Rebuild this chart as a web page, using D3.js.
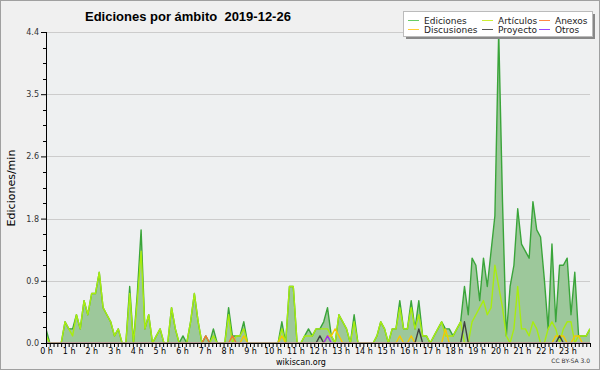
<!DOCTYPE html>
<html>
<head>
<meta charset="utf-8">
<script src="https://cdn.jsdelivr.net/npm/d3@7"></script>
<style>
  body { margin: 0; background: #fff; }
  svg { display: block; font-family: "DejaVu Sans", sans-serif; }
</style>
</head>
<body>
<div id="chart"></div>
<script>
// 10-minute bins, 144 per day (edits per minute)
const ediciones = [
  0.2, 0, 0, 0, 0, 0.3, 0.2, 0.2, 0.4, 0.2, 0.6, 0.4,
  0.7, 0.7, 1.0, 0.5, 0.4, 0.3, 0.1, 0.2, 0, 0, 0.8, 0,
  0.7, 1.6, 0.2, 0.4, 0, 0.1, 0.2, 0, 0, 0.5, 0.2, 0,
  0.1, 0, 0.3, 0.7, 0.3, 0, 0.1, 0, 0.2, 0, 0, 0,
  0.5, 0.1, 0.1, 0.1, 0.3, 0, 0, 0, 0, 0, 0, 0,
  0, 0, 0.3, 0, 0.8, 0.8, 0, 0, 0.1, 0.2, 0.1, 0.2,
  0.2, 0.3, 0.5, 0.1, 0, 0.4, 0.3, 0.2, 0, 0.4, 0, 0,
  0, 0, 0, 0.1, 0.3, 0.2, 0, 0.2, 0.2, 0.6, 0.2, 0.2,
  0.6, 0.2, 0.6, 0.1, 0.1, 0, 0.1, 0.2, 0.3, 0.2, 0.2, 0.1,
  0.2, 0.3, 0.8, 0.4, 1.2, 1.1, 0.6, 1.2, 0.8, 1.3, 1.8, 4.4,
  2.0, 0.1, 0.8, 1.1, 1.9, 1.4, 1.3, 1.2, 2.0, 1.6, 1.5, 0.9,
  0.2, 1.4, 0.3, 1.1, 1.1, 1.2, 0.4, 1.0, 0.1, 0.1, 0.1, 0.2
];
const articulos = [
  0.1, 0, 0, 0, 0, 0.3, 0.2, 0.1, 0.4, 0.2, 0.6, 0.4,
  0.7, 0.7, 1.0, 0.5, 0.4, 0.3, 0.1, 0.2, 0, 0, 0.7, 0,
  0.6, 1.3, 0.2, 0.4, 0, 0.1, 0.2, 0, 0, 0.5, 0.2, 0,
  0, 0, 0.3, 0.7, 0.3, 0, 0, 0, 0.1, 0, 0, 0,
  0.4, 0, 0.1, 0.1, 0.2, 0, 0, 0, 0, 0, 0, 0,
  0, 0, 0.2, 0, 0.8, 0.8, 0, 0, 0.1, 0.1, 0.1, 0.2,
  0.2, 0.2, 0.2, 0.1, 0, 0.4, 0.3, 0.2, 0, 0.3, 0, 0,
  0, 0, 0, 0.1, 0.3, 0.2, 0, 0.2, 0.2, 0.5, 0.2, 0.2,
  0.5, 0.2, 0.4, 0.1, 0.1, 0, 0.1, 0.2, 0.3, 0.1, 0.1, 0.1,
  0.2, 0.3, 0, 0, 0.3, 0.4, 0.5, 0.6, 0.4, 0.5, 1.1, 0.8,
  0.5, 0.1, 0, 0.2, 0.8, 0.2, 0.2, 0.1, 0.3, 0.2, 0, 0,
  0.2, 0.3, 0.2, 0, 0.2, 0.3, 0.3, 0, 0.1, 0.1, 0.1, 0.2
];
const anexos = [
  0, 0, 0, 0, 0, 0, 0, 0, 0, 0, 0, 0,
  0, 0, 0, 0, 0, 0, 0, 0, 0, 0, 0, 0,
  0, 0, 0, 0, 0, 0, 0, 0, 0, 0, 0, 0,
  0, 0, 0, 0, 0, 0, 0.1, 0, 0, 0, 0, 0,
  0, 0.1, 0, 0, 0, 0, 0, 0, 0, 0, 0, 0,
  0, 0, 0, 0, 0, 0, 0, 0, 0, 0, 0, 0,
  0, 0, 0, 0, 0, 0, 0, 0, 0, 0, 0, 0,
  0, 0, 0, 0, 0, 0, 0, 0, 0, 0, 0, 0,
  0, 0, 0, 0, 0, 0, 0, 0, 0, 0, 0, 0,
  0, 0, 0, 0, 0, 0, 0, 0, 0, 0, 0, 0,
  0, 0, 0, 0, 0, 0, 0, 0, 0, 0, 0, 0,
  0, 0, 0, 0, 0, 0, 0, 0, 0, 0, 0, 0
];
const discusiones = [
  0, 0, 0, 0, 0, 0, 0, 0, 0, 0, 0, 0,
  0, 0, 0, 0, 0, 0, 0, 0, 0, 0, 0, 0,
  0, 0, 0, 0, 0, 0, 0, 0, 0, 0, 0, 0,
  0, 0, 0, 0, 0, 0, 0, 0, 0, 0, 0, 0,
  0, 0, 0, 0, 0.1, 0, 0, 0, 0, 0, 0, 0,
  0, 0, 0.1, 0, 0, 0, 0, 0, 0, 0, 0, 0,
  0, 0, 0.1, 0.1, 0.2, 0.1, 0, 0, 0, 0, 0, 0,
  0, 0, 0, 0, 0, 0, 0, 0, 0, 0.1, 0, 0,
  0.1, 0, 0, 0, 0, 0, 0, 0, 0, 0.2, 0, 0,
  0, 0, 0, 0, 0, 0, 0, 0, 0, 0, 0, 0,
  0, 0, 0, 0, 0, 0, 0, 0, 0, 0, 0, 0,
  0, 0, 0.1, 0.1, 0.1, 0, 0, 0.1, 0.1, 0, 0, 0
];
const proyecto = [
  0, 0, 0, 0, 0, 0, 0, 0, 0, 0, 0, 0,
  0, 0, 0, 0, 0, 0, 0, 0, 0, 0, 0, 0,
  0, 0, 0, 0, 0, 0, 0, 0, 0, 0, 0, 0,
  0, 0, 0, 0, 0, 0, 0, 0, 0, 0, 0, 0,
  0, 0, 0, 0, 0, 0, 0, 0, 0, 0, 0, 0,
  0, 0, 0, 0, 0, 0, 0, 0, 0, 0, 0, 0,
  0.1, 0, 0, 0, 0, 0, 0, 0, 0, 0, 0, 0,
  0, 0, 0, 0, 0, 0, 0, 0, 0, 0, 0, 0,
  0, 0, 0.2, 0, 0, 0, 0, 0, 0, 0, 0, 0,
  0, 0, 0.3, 0, 0, 0, 0, 0, 0, 0, 0, 0,
  0, 0, 0, 0, 0, 0, 0, 0, 0, 0, 0, 0,
  0, 0, 0, 0.1, 0, 0, 0, 0, 0, 0, 0, 0
];
const otros = [
  0, 0, 0, 0, 0, 0, 0, 0, 0, 0, 0, 0,
  0, 0, 0, 0, 0, 0, 0, 0, 0, 0, 0, 0,
  0, 0, 0, 0, 0, 0, 0, 0, 0, 0, 0, 0,
  0, 0, 0, 0, 0, 0, 0, 0, 0, 0, 0, 0,
  0, 0, 0, 0, 0, 0, 0, 0, 0, 0, 0, 0,
  0, 0, 0, 0, 0, 0, 0, 0, 0, 0, 0, 0,
  0, 0, 0.1, 0, 0, 0, 0, 0, 0, 0, 0, 0,
  0, 0, 0, 0, 0, 0, 0, 0, 0, 0, 0, 0,
  0, 0, 0, 0, 0, 0, 0, 0, 0, 0, 0, 0,
  0, 0, 0, 0, 0, 0, 0, 0, 0, 0, 0, 0,
  0, 0, 0, 0, 0, 0, 0, 0, 0, 0, 0, 0,
  0, 0, 0, 0, 0, 0, 0, 0, 0, 0, 0, 0
];
const yTicks = [0, 0.88, 1.76, 2.64, 3.52, 4.4];

const W = 600, H = 370;
const margin = { top: 32, right: 10, bottom: 27, left: 46 };
const width = W - margin.left - margin.right;
const height = H - margin.top - margin.bottom;

const svg = d3.select("#chart").append("svg")
  .attr("width", W)
  .attr("height", H);

// background and frame
svg.append("rect")
  .attr("x", 0.5).attr("y", 0.5)
  .attr("width", W - 1).attr("height", H - 1)
  .attr("fill", "#f0f0f0")
  .attr("stroke", "#a0a0a0");

const g = svg.append("g")
  .attr("transform", `translate(${margin.left}, ${margin.top})`);

g.append("rect")
  .attr("width", width).attr("height", height)
  .attr("fill", "#eef0f1");

const x = d3.scaleLinear().domain([0, 143]).range([0, width]);
const y = d3.scaleLinear().domain([0, 4.4]).range([height, 0]);

// grid
g.selectAll(".grid")
  .data(yTicks.slice(1))
  .join("line")
  .attr("x1", 0).attr("x2", width)
  .attr("y1", (d) => Math.round(y(d)) + 0.5)
  .attr("y2", (d) => Math.round(y(d)) + 0.5)
  .attr("stroke", "#cccccc");

g.append("clipPath").attr("id", "clip")
  .append("rect").attr("x", 0).attr("y", -2)
  .attr("width", width).attr("height", height + 1.2);

const plot = g.append("g").attr("clip-path", "url(#clip)");

const area = d3.area()
  .x((d, i) => x(i))
  .y0(height)
  .y1((d) => y(d));
const line = d3.line()
  .x((d, i) => x(i))
  .y((d) => y(d));

plot.append("path")
  .datum(ediciones)
  .attr("d", area)
  .attr("fill", "#9dc89b");

const series = [
  { values: ediciones, color: "#3aa53a" },
  { values: articulos, color: "#a8ec10" },
  { values: anexos, color: "#f07a30" },
  { values: discusiones, color: "#f5c800" },
  { values: proyecto, color: "#404040" },
  { values: otros, color: "#9b30f0" }
];

plot.selectAll(".serie")
  .data(series)
  .join("path")
  .attr("d", (d) => line(d.values))
  .attr("fill", "none")
  .attr("stroke", (d) => d.color)
  .attr("stroke-width", 1.4)
  .attr("stroke-linejoin", "round");

// Y axis
const yAxis = d3.axisLeft(y)
  .tickValues(yTicks)
  .tickFormat(d3.format(".1f"))
  .tickSize(5)
  .tickPadding(2);
const ya = g.append("g").call(yAxis);
ya.select(".domain").remove();
ya.selectAll("text").attr("font-size", 8).attr("fill", "#333")
  .attr("font-family", "DejaVu Sans");
ya.selectAll("line").attr("stroke", "#000");

// minor y ticks
const yMinor = d3.range(0, 4.4, 0.22).filter((v) => !yTicks.some((t) => Math.abs(t - v) < 0.01));
g.selectAll(".yminor")
  .data(yMinor)
  .join("line")
  .attr("x1", -3).attr("x2", 0)
  .attr("y1", (d) => Math.round(y(d)) + 0.5)
  .attr("y2", (d) => Math.round(y(d)) + 0.5)
  .attr("stroke", "#000");

g.append("line")
  .attr("x1", 0.5).attr("x2", 0.5)
  .attr("y1", 0).attr("y2", height)
  .attr("stroke", "#000");

// X axis (10-minute ticks, labels each hour)
const xh = d3.scaleLinear().domain([0, 24]).range([0, width]);
const xAxis = d3.axisBottom(xh)
  .tickValues(d3.range(0, 24.01, 1 / 6))
  .tickFormat((d) => {
    const h = Math.round(d * 6);
    return h % 6 === 0 && h / 6 < 24 ? `${h / 6} h` : "";
  })
  .tickSize(4)
  .tickPadding(1);
const xa = g.append("g")
  .attr("transform", `translate(0, ${height})`)
  .call(xAxis);
xa.select(".domain").attr("stroke", "#000").attr("d", `M0.5,0.5H${width}`);
xa.selectAll("line").attr("stroke", "#000");
xa.selectAll("text").attr("font-size", 8).attr("fill", "#000")
  .attr("font-family", "DejaVu Sans");

// title
svg.append("text")
  .attr("x", 85).attr("y", 21)
  .attr("font-family", "Liberation Sans")
  .attr("font-size", 13)
  .attr("font-weight", "bold")
  .style("white-space", "pre")
  .text("Ediciones por ámbito  2019-12-26");

svg.append("text")
  .attr("transform", "translate(15, 188) rotate(-90)")
  .attr("text-anchor", "middle")
  .attr("font-size", 11)
  .text("Ediciones/min");

svg.append("text")
  .attr("x", 301).attr("y", 365)
  .attr("text-anchor", "middle")
  .attr("font-size", 8)
  .text("wikiscan.org");

svg.append("text")
  .attr("x", 590).attr("y", 363)
  .attr("text-anchor", "end")
  .attr("font-size", 6)
  .attr("fill", "#333")
  .text("CC BY-SA 3.0");

// legend
const legendItems = [
  { name: "Ediciones", color: "#66cc66" },
  { name: "Discusiones", color: "#ffcc33" },
  { name: "Artículos", color: "#ccee33" },
  { name: "Proyecto", color: "#555555" },
  { name: "Anexos", color: "#ff8844" },
  { name: "Otros", color: "#9944ff" }
];
const lg = svg.append("g");
lg.append("rect")
  .attr("x", 406).attr("y", 14).attr("width", 189).attr("height", 25)
  .attr("fill", "#888");
lg.append("rect")
  .attr("x", 403.5).attr("y", 11.5).attr("width", 189).attr("height", 25)
  .attr("fill", "#fff").attr("stroke", "#bbb");
const colX = [408, 482, 539];
const rowY = [20, 29];
const entry = lg.selectAll(".entry")
  .data(legendItems)
  .join("g")
  .attr("transform", (d, i) => `translate(${colX[Math.floor(i / 2)]}, ${rowY[i % 2]})`);
entry.append("line")
  .attr("x1", 0).attr("x2", 11).attr("y1", 0.5).attr("y2", 0.5)
  .attr("stroke", (d) => d.color);
entry.append("text")
  .attr("x", 16).attr("y", 3.5)
  .attr("font-size", 9)
  .attr("fill", "#222")
  .text((d) => d.name);
</script>
</body>
